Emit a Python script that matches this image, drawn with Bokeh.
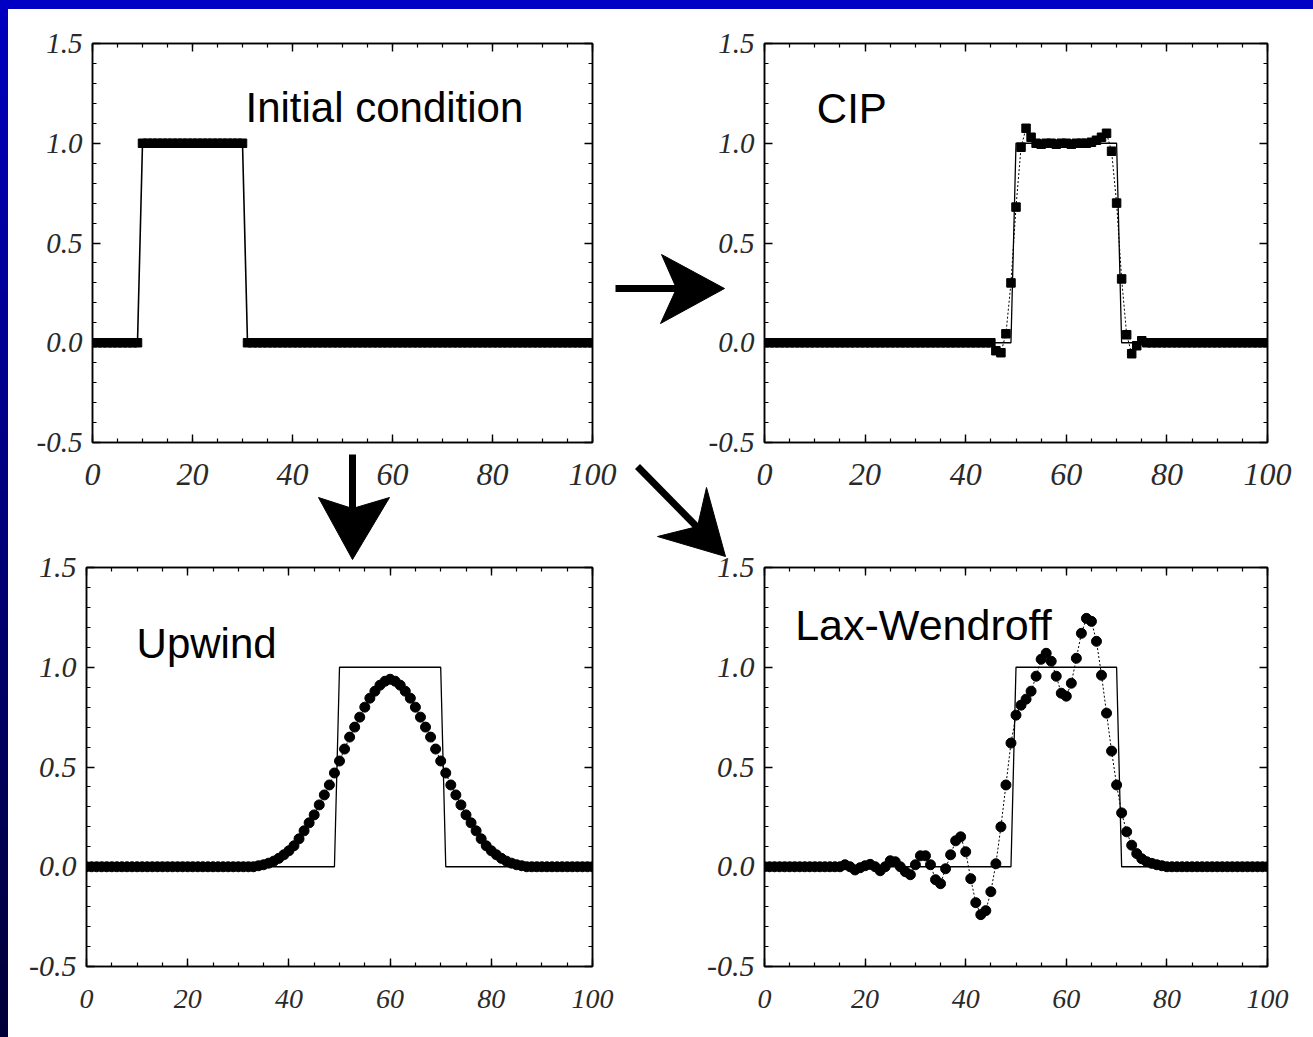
import numpy as np
from bokeh.plotting import figure
from bokeh.models import (Range1d, LinearAxis, SingleIntervalTicker, PrintfTickFormatter,
                          CustomJSTickFormatter, Label, GridBox, GlobalInlineStyleSheet,
                          ColumnDataSource, Spacer)
from bokeh.embed import file_html
from bokeh.resources import INLINE

# ---------------- data ----------------
x_grid = list(range(0, 101))

initial_u = [0.0] * 10 + [1.0] * 21 + [0.0] * 70
exact_u = [0.0] * 50 + [1.0] * 21 + [0.0] * 30

cip_u = ([0.0] * 45 +
         [0.0, -0.04, -0.05, 0.045, 0.30, 0.68, 0.98, 1.075, 1.03, 1.0,
          0.995, 1.0, 1.0, 0.995, 1.0, 1.0, 0.995, 1.0, 1.0, 1.0,
          1.005, 1.015, 1.03, 1.05, 0.96, 0.70, 0.32, 0.04, -0.055, -0.015,
          0.01] +
         [0.0] * 25)

upwind_u = ([0.0] * 34 +
            [0.005, 0.01, 0.018, 0.028, 0.042, 0.06, 0.08, 0.105, 0.14, 0.18,
             0.22, 0.26, 0.31, 0.36, 0.41, 0.47, 0.53, 0.59, 0.65, 0.70,
             0.75, 0.80, 0.845, 0.88, 0.91, 0.93, 0.94,
             0.93, 0.91, 0.88, 0.845, 0.80, 0.75, 0.70, 0.65, 0.59, 0.53,
             0.47, 0.41, 0.36, 0.31, 0.26, 0.22, 0.18, 0.14, 0.105, 0.08,
             0.06, 0.042, 0.028, 0.018, 0.01, 0.005] +
            [0.0] * 14)

laxw_u = ([0.0] * 16 +
          [0.01, 0.0, -0.016, -0.005, 0.005, 0.012, 0.0, -0.02, 0.0, 0.03,
           0.025, 0.0, -0.025, -0.04, 0.01, 0.055, 0.055, 0.01, -0.065, -0.085,
           -0.01, 0.06, 0.13, 0.15, 0.075, -0.06, -0.18, -0.24, -0.22, -0.125,
           0.015, 0.20, 0.41, 0.62, 0.76, 0.81, 0.84, 0.88, 0.955, 1.04,
           1.07, 1.03, 0.955, 0.87, 0.855, 0.92, 1.045, 1.17, 1.245, 1.23,
           1.13, 0.96, 0.77, 0.58, 0.41, 0.27, 0.175, 0.108, 0.066, 0.04,
           0.025, 0.017, 0.01, 0.005] +
          [0.0] * 21)

assert len(initial_u) == 101 and len(exact_u) == 101
assert len(cip_u) == 101 and len(upwind_u) == 101 and len(laxw_u) == 101

x_ticks_major = 20
y_ticks_major = 0.5

panel_titles = ["Initial condition", "CIP", "Upwind", "Lax-Wendroff"]

# ---------------- styling helpers ----------------
TICK_FONT = "Liberation Serif"
LABEL_FONT = "Liberation Sans"


def style_axis(ax, labelled, standoff, font_size):
    ax.axis_line_color = "black"
    ax.axis_line_width = 1.6
    ax.major_tick_in = 8
    ax.major_tick_out = 0
    ax.minor_tick_in = 4
    ax.minor_tick_out = 0
    ax.major_tick_line_color = "black"
    ax.minor_tick_line_color = "black"
    ax.major_tick_line_width = 1.4
    ax.minor_tick_line_width = 1.2
    ax.major_label_text_font = TICK_FONT
    ax.major_label_text_font_style = "italic"
    ax.major_label_text_font_size = font_size
    ax.major_label_text_color = "#2a2a2a"
    ax.major_label_standoff = standoff
    if not labelled:
        ax.formatter = CustomJSTickFormatter(code="return '';")


def make_panel(width, height, left, right, top, bottom, xfont, yfont, xstand):
    p = figure(width=width, height=height,
               x_range=Range1d(0, 100), y_range=Range1d(-0.5, 1.5),
               output_backend="svg", toolbar_location=None,
               x_axis_type=None, y_axis_type=None,
               min_border_left=left, min_border_right=right,
               min_border_top=top, min_border_bottom=bottom)
    p.background_fill_alpha = 0
    p.border_fill_alpha = 0
    p.outline_line_color = "black"
    p.outline_line_width = 1.4
    for loc in ["below", "above"]:
        ax = LinearAxis(ticker=SingleIntervalTicker(interval=x_ticks_major, num_minor_ticks=4),
                        formatter=PrintfTickFormatter(format="%d"))
        style_axis(ax, loc == "below", xstand, xfont)
        p.add_layout(ax, loc)
    for loc in ["left", "right"]:
        ax = LinearAxis(ticker=SingleIntervalTicker(interval=y_ticks_major, num_minor_ticks=5),
                        formatter=PrintfTickFormatter(format="%.1f"))
        style_axis(ax, loc == "left", 10, yfont)
        p.add_layout(ax, loc)
    return p


def add_title(p, text, x, y, size):
    p.add_layout(Label(x=x, y=y, text=text, text_font=LABEL_FONT,
                       text_font_size=size, text_color="black",
                       text_baseline="alphabetic", text_align="left"))


# ---------------- panel 1: initial condition ----------------
p1 = make_panel(672, 508, 86, 80, 43, 65, "32px", "29px", 21)
src1 = ColumnDataSource(dict(x=x_grid, u=initial_u))
p1.line("x", "u", source=src1, line_color="black", line_width=1.6)
p1.scatter("x", "u", source=src1, marker="square", size=8.5, color="black")
add_title(p1, panel_titles[0], 30.6, 1.18, "42px")

# ---------------- panel 2: CIP ----------------
p2 = make_panel(635, 508, 84, 46, 41, 66, "32px", "29px", 21)
src2 = ColumnDataSource(dict(x=x_grid, exact=exact_u, num=cip_u))
p2.line("x", "exact", source=src2, line_color="black", line_width=1.3)
p2.line("x", "num", source=src2, line_color="black", line_width=1, line_dash="2 2")
p2.scatter("x", "num", source=src2, marker="square", size=8.5, color="black")
add_title(p2, panel_titles[1], 10.4, 1.176, "42px")

# ---------------- panel 3: Upwind ----------------
p3 = make_panel(678, 529, 86, 86, 59, 71, "28px", "30px", 23)
src3 = ColumnDataSource(dict(x=x_grid, exact=exact_u, num=upwind_u))
p3.line("x", "exact", source=src3, line_color="black", line_width=1.3)
p3.line("x", "num", source=src3, line_color="black", line_width=1, line_dash="2 2")
p3.scatter("x", "num", source=src3, marker="circle", size=10, color="black")
add_title(p3, panel_titles[2], 9.9, 1.119, "42px")

# ---------------- panel 4: Lax-Wendroff ----------------
p4 = make_panel(635, 529, 86, 44, 57, 71, "28px", "30px", 23)
src4 = ColumnDataSource(dict(x=x_grid, exact=exact_u, num=laxw_u))
p4.line("x", "exact", source=src4, line_color="black", line_width=1.3)
p4.line("x", "num", source=src4, line_color="black", line_width=1, line_dash="2 2")
p4.scatter("x", "num", source=src4, marker="circle", size=10, color="black")
add_title(p4, panel_titles[3], 6.1, 1.21, "43px")

# ---------------- background layer with the arrows ----------------
# frame of this layer spans the outer plot frames; its ranges are page pixels
bg = figure(width=1313, height=1037, x_range=Range1d(86, 1267), y_range=Range1d(966, 43),
            output_backend="svg", toolbar_location=None,
            x_axis_type=None, y_axis_type=None,
            min_border_left=86, min_border_right=46, min_border_top=43, min_border_bottom=71)
bg.outline_line_color = None
bg.background_fill_alpha = 0
bg.border_fill_alpha = 0

# arrow shafts (page pixel positions)
bg.segment(x0=[615, 352, 637], y0=[288, 454, 466], x1=[678, 352, 698], y1=[288, 510, 528],
           line_color="black", line_width=7)
# arrow heads
bg.patches(xs=[[724, 661, 676, 660], [352, 318, 352, 389], [725, 657, 697, 706]],
           ys=[[288, 254, 288, 323], [559, 497, 508, 497], [556, 536, 526, 487]],
           fill_color="black", line_color="black", line_width=1)

grid = GridBox(children=[(bg, 0, 0, 2, 3),
                         (p1, 0, 1), (p2, 0, 2),
                         (p3, 1, 0, 1, 2), (p4, 1, 2),
                         (Spacer(width=6, height=0), 2, 0)],
               spacing=0)
grid.stylesheets = [GlobalInlineStyleSheet(css="""
body {
  background:
    linear-gradient(#0000c4, #0000c4) 0 0 / 100% 9px no-repeat,
    linear-gradient(to bottom, #0000c0, #000038) 0 0 / 8px 100% no-repeat,
    #ffffff;
}
""")]

open("out.html", "w").write(file_html(grid, INLINE))
